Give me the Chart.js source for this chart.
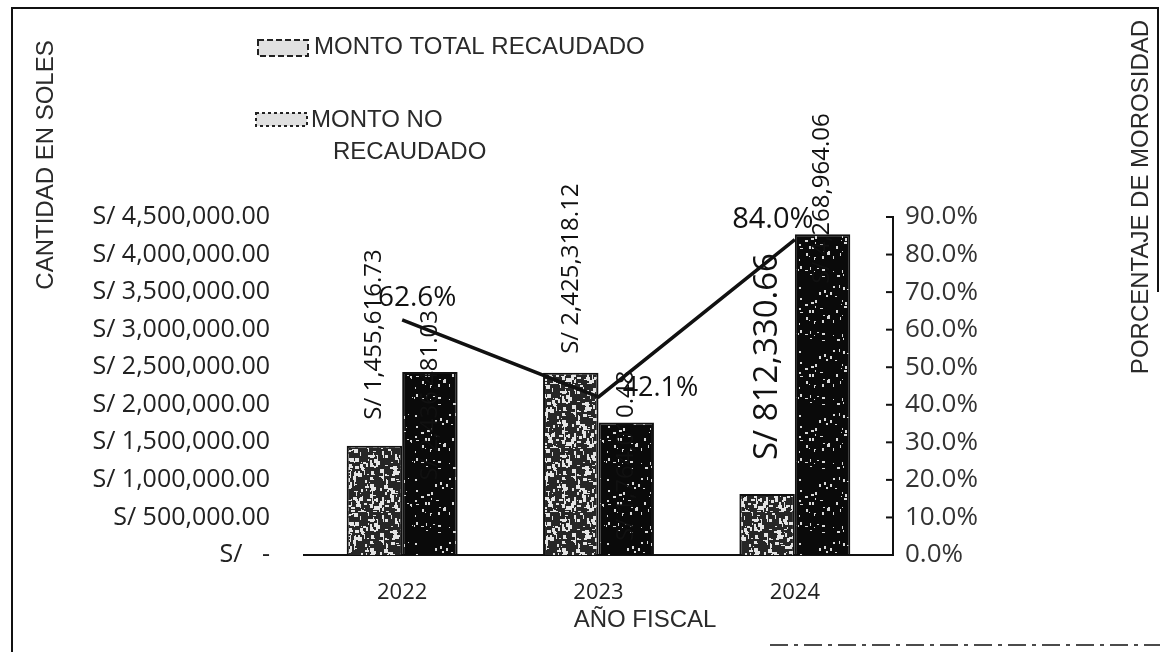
<!DOCTYPE html>
<html>
<head>
<meta charset="utf-8">
<script src="https://cdn.jsdelivr.net/npm/chart.js@4.4.1/dist/chart.umd.min.js"></script>
<style>
  body { margin: 0; background: #fff; }
  #chart { display: block; }
</style>
</head>
<body>
<canvas id="chart" width="1168" height="652"></canvas>
<script>
// datos
let years = ['2022', '2023', '2024']
let montoTotal = [1455616.73, 2425318.12, 812330.66]
let montoNoRecaudado = [2436481.03, 1764010.48, 4268964.06]
let morosidad = [62.6, 42.1, 84.0]
let solesMax = 4500000
let solesStep = 500000
let pctMax = 90
let pctStep = 10

let labelTotal = 'MONTO TOTAL RECAUDADO'
let labelNo = ['MONTO NO', 'RECAUDADO']
let tituloY = 'CANTIDAD EN SOLES'
let tituloY1 = 'PORCENTAJE DE MOROSIDAD'
let tituloX = 'AÑO FISCAL'

const narrow = '"Liberation Sans Narrow", "Liberation Sans", sans-serif'
const sans = '"Open Sans", "Noto Sans", sans-serif'

function soles(v) {
  if (v === 0) return 'S/   -'
  return 'S/ ' + v.toLocaleString('en-US', { minimumFractionDigits: 2, maximumFractionDigits: 2 })
}

// textura tipo fotocopia, deterministica
function speckle(base, fleck, count, maxSize, seed) {
  const c = document.createElement('canvas')
  c.width = 64; c.height = 64
  const g = c.getContext('2d')
  g.fillStyle = base
  g.fillRect(0, 0, 64, 64)
  g.fillStyle = fleck
  let s = seed
  const next = () => { s = (s * 16807) % 2147483647; return s }
  for (let i = 0; i < count; i++) {
    const x = next() % 64, y = next() % 64
    const w = 1 + next() % maxSize, h = 1 + next() % maxSize
    g.fillRect(x, y, w, h)
  }
  return g.createPattern(c, 'repeat')
}

const fillTotal = speckle('#262626', '#e4e4e4', 260, 4, 12345)
const fillNo = speckle('#0a0a0a', '#d8d8d8', 60, 3, 777)

// estilo de las etiquetas (posiciones relativas a cada barra/punto)
const totalLabelGap = [26, 19, 34]
const totalLabelSize = [24, 24, 33]
const noLabelEnd = [62, 52, 121]
const pctLabelDx = [15, 62, -22]
const pctLabelDy = [-22, -9, -20]
const pctLabelSize = [28, 27, 29]

function vText(ctx, text, x, y, align) {
  ctx.save()
  ctx.translate(x, y)
  ctx.rotate(-Math.PI / 2)
  ctx.textAlign = align
  ctx.textBaseline = 'middle'
  ctx.fillText(text, 0, 0)
  ctx.restore()
}

const decor = {
  id: 'decor',
  beforeDraw(chart) {
    const ctx = chart.ctx
    ctx.save()
    ctx.fillStyle = '#fff'
    ctx.fillRect(0, 0, chart.width, chart.height)
    ctx.strokeStyle = '#111'
    ctx.lineWidth = 2
    ctx.beginPath()
    ctx.moveTo(12, 652); ctx.lineTo(12, 8); ctx.lineTo(1158, 8); ctx.lineTo(1158, 292)
    ctx.stroke()
    ctx.setLineDash([18, 6, 4, 6])
    ctx.lineWidth = 1.5
    ctx.beginPath()
    ctx.moveTo(770, 645); ctx.lineTo(1160, 645)
    ctx.stroke()
    ctx.restore()
  },
  afterDatasetsDraw(chart) {
    const ctx = chart.ctx
    const area = chart.chartArea
    const barsT = chart.getDatasetMeta(0).data
    const barsN = chart.getDatasetMeta(1).data
    const pts = chart.getDatasetMeta(2).data
    ctx.save()
    ctx.fillStyle = '#111'

    barsT.forEach((b, i) => {
      ctx.font = totalLabelSize[i] + 'px ' + sans
      vText(ctx, soles(montoTotal[i]), b.x, b.y - totalLabelGap[i], 'left')
    })
    barsN.forEach((b, i) => {
      ctx.font = '24px ' + sans
      vText(ctx, soles(montoNoRecaudado[i]), b.x, b.y - noLabelEnd[i], 'right')
    })
    pts.forEach((p, i) => {
      ctx.font = pctLabelSize[i] + 'px ' + sans
      ctx.textAlign = 'center'
      ctx.textBaseline = 'middle'
      ctx.fillText(morosidad[i].toFixed(1) + '%', p.x + pctLabelDx[i], p.y + pctLabelDy[i])
    })

    // marcas del eje derecho hacia dentro
    const y1 = chart.scales.y1
    ctx.strokeStyle = '#111'
    ctx.lineWidth = 2
    y1.ticks.forEach(t => {
      const y = y1.getPixelForValue(t.value)
      ctx.beginPath()
      ctx.moveTo(area.right - 7, y)
      ctx.lineTo(area.right, y)
      ctx.stroke()
    })

    // titulos
    ctx.fillStyle = '#2a2a2a'
    ctx.font = '24px ' + narrow
    vText(ctx, tituloY, 46, 165, 'center')
    vText(ctx, tituloY1, 1141, 197, 'center')
    ctx.textAlign = 'center'
    ctx.textBaseline = 'middle'
    ctx.fillText(tituloX, 645, 620)

    // leyenda
    ctx.font = '24px ' + narrow
    ctx.textAlign = 'left'
    ctx.fillText(labelTotal, 314, 47)
    ctx.fillText(labelNo[0], 311, 120)
    ctx.fillText(labelNo[1], 333, 152)
    ctx.fillStyle = '#e0e0e0'
    ctx.fillRect(258, 40, 50, 16)
    ctx.fillRect(256, 113, 51, 13)
    ctx.strokeStyle = '#222'
    ctx.lineWidth = 2
    ctx.setLineDash([6, 3])
    ctx.strokeRect(258, 40, 50, 16)
    ctx.setLineDash([3, 3])
    ctx.strokeRect(256, 113, 51, 13)
    ctx.restore()
  }
}

const ctx = document.getElementById('chart').getContext('2d')
const myChart = new Chart(ctx, {
  type: 'bar',
  data: {
    labels: years,
    datasets: [{
      label: labelTotal,
      data: montoTotal,
      backgroundColor: fillTotal,
      borderColor: '#111',
      borderWidth: 2,
      yAxisID: 'y',
      order: 2
    }, {
      label: labelNo.join(' '),
      data: montoNoRecaudado,
      backgroundColor: fillNo,
      borderColor: '#111',
      borderWidth: 2,
      yAxisID: 'y',
      order: 2
    }, {
      type: 'line',
      label: tituloY1,
      data: morosidad,
      borderColor: '#111',
      borderWidth: 3.5,
      pointRadius: 0,
      tension: 0,
      yAxisID: 'y1',
      order: 1
    }]
  },
  options: {
    responsive: false,
    animation: false,
    layout: { padding: { top: 217, left: 0, right: 0, bottom: 0 } },
    plugins: { legend: { display: false }, tooltip: { enabled: false } },
    datasets: { bar: { categoryPercentage: 0.565, barPercentage: 1 } },
    scales: {
      x: {
        grid: { display: false, drawTicks: false },
        border: { display: true, color: '#111', width: 2 },
        ticks: { color: '#222', font: { family: sans, size: 22 }, padding: 25 },
        afterFit: s => { s.height = 97 }
      },
      y: {
        position: 'left',
        min: 0, max: solesMax,
        grid: { display: false, drawTicks: false },
        border: { display: false },
        ticks: { stepSize: solesStep, color: '#222', font: { family: sans, size: 25 }, padding: 34, callback: v => soles(v) },
        afterFit: s => { s.width = 304 }
      },
      y1: {
        position: 'right',
        min: 0, max: pctMax,
        grid: { display: false, drawTicks: false },
        border: { display: true, color: '#111', width: 2 },
        ticks: { stepSize: pctStep, color: '#333', font: { family: sans, size: 26 }, padding: 12, callback: v => v.toFixed(1) + '%' },
        afterFit: s => { s.width = 275 }
      }
    }
  },
  plugins: [decor]
})
</script>
</body>
</html>
